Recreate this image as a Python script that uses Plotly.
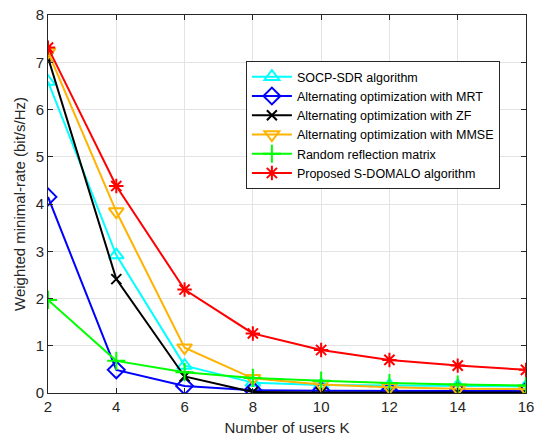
import plotly.graph_objects as go

K = [2, 4, 6, 8, 10, 12, 14, 16]
socp = [6.59, 2.92, 0.58, 0.22, 0.17, 0.16, 0.15, 0.14]
mrt = [4.15, 0.49, 0.15, 0.06, 0.05, 0.04, 0.04, 0.04]
zf = [7.1, 2.41, 0.35, 0.02, 0.01, 0.01, 0.01, 0.01]
mmse = [7.22, 3.84, 0.96, 0.31, 0.18, 0.12, 0.09, 0.08]
rand = [1.97, 0.68, 0.44, 0.32, 0.26, 0.21, 0.18, 0.16]
prop = [7.31, 4.38, 2.19, 1.26, 0.91, 0.70, 0.58, 0.49]

names = ["SOCP-SDR algorithm", "Alternating optimization with MRT",
         "Alternating optimization with ZF", "Alternating optimization with MMSE",
         "Random reflection matrix", "Proposed S-DOMALO algorithm"]

series = [
    (socp, "#00FFFF", "triangle-up-open", 13),
    (mrt, "#0000FF", "diamond-open", 13),
    (zf, "#000000", "x-thin-open", 10),
    (mmse, "#FFB300", "triangle-down-open", 13),
    (rand, "#00FF00", "cross-thin-open", 13),
    (prop, "#FF0000", "asterisk-open", 12),
]

fig = go.Figure()
for (vals, col, sym, sz), nm in zip(series, names):
    fig.add_trace(go.Scatter(
        x=K, y=vals, name=nm, mode="lines+markers",
        line=dict(color=col, width=2),
        marker=dict(symbol=sym, size=sz, color=col, line=dict(color=col, width=2)),
    ))

axis_common = dict(
    showgrid=True, gridcolor="#E3E3E3", gridwidth=1,
    showline=True, linecolor="#262626", linewidth=1, mirror="ticks",
    ticks="inside", ticklen=5, tickcolor="#262626",
    tickfont=dict(family="Liberation Sans, Arial", size=15, color="#262626"),
    zeroline=False, automargin=False,
)

fig.update_layout(
    width=539, height=437,
    margin=dict(l=48, r=13, t=15, b=44),
    paper_bgcolor="white", plot_bgcolor="white",
    font=dict(family="Liberation Sans, Arial", color="#262626"),
    xaxis=dict(range=[2, 16], tickvals=K, **axis_common,
               title=dict(text="Number of users K", font=dict(size=15), standoff=8)),
    yaxis=dict(range=[0, 8], tickvals=list(range(0, 9)), **axis_common,
               title=dict(text="Weighted minimal-rate (bit/s/Hz)", font=dict(size=15), standoff=6)),
    legend=dict(x=0.414, y=0.878, xanchor="left", yanchor="top",
                bgcolor="white", bordercolor="#262626", borderwidth=1,
                font=dict(family="Liberation Sans, Arial", size=12.5, color="black"),
                tracegroupgap=0, itemwidth=40),
    showlegend=True,
)

fig.write_html("out.html")
